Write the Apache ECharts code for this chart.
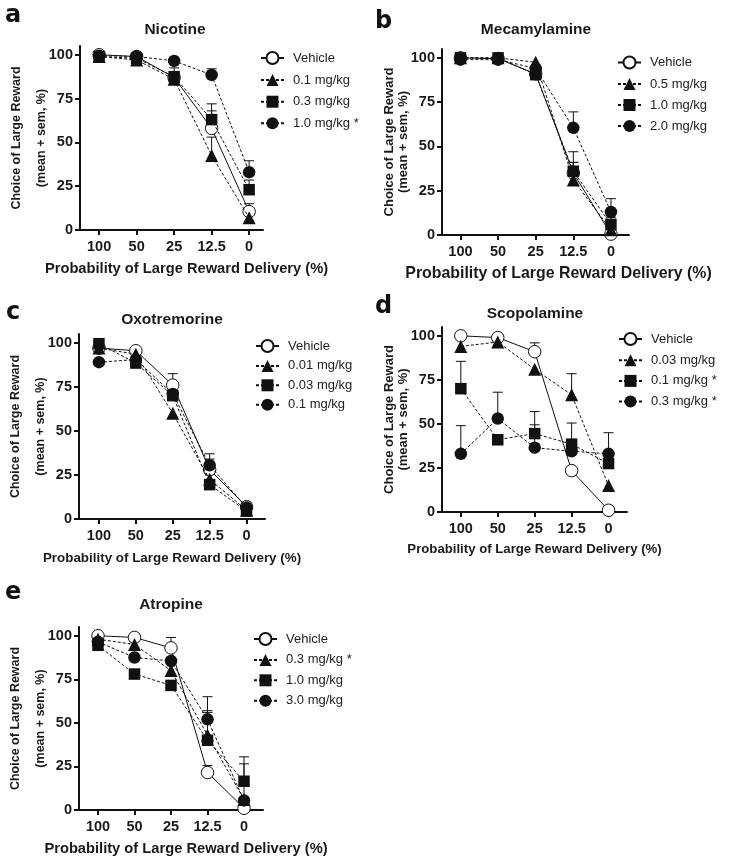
<!DOCTYPE html>
<html>
<head>
<meta charset="utf-8">
<script src="https://cdn.jsdelivr.net/npm/echarts@6/dist/echarts.min.js"></script>
<style>
  html, body { margin: 0; padding: 0; background: #fff; }
  #chart { width: 729px; height: 861px; }
</style>
</head>
<body>
<div id="chart"></div>
<script>
  // x categories (probability of large reward delivery, %)
  const categories = ['100', '50', '25', '12.5', '0'];
  const yTicks = [0, 25, 50, 75, 100];

  // a  Nicotine
  const nicVeh = [100, 99, 87, 58, 10.5],   nicVehErr = [0, 0, 2, 10, 4.5];
  const nic01  = [99, 97, 86, 42.5, 7],     nic01Err  = [0, 0, 0, 10.5, 3];
  const nic03  = [99, 98, 87.5, 63, 23],    nic03Err  = [0, 1, 5, 9, 5.5];
  const nic10  = [99.5, 99, 96.5, 88.5, 33], nic10Err = [0, 0, 0, 3.5, 6.5];

  // b  Mecamylamine
  const mecVeh = [100, 99.5, 91, 35, 0.5],  mecVehErr = [0, 0, 0, 6, 3];
  const mec05  = [100, 100, 97.5, 31, 3],   mec05Err  = [0, 0, 0, 10, 3];
  const mec10  = [100, 100, 90.5, 36, 6],   mec10Err  = [0, 0, 0, 11, 4];
  const mec20  = [99, 99, 94, 60.5, 13],    mec20Err  = [0, 0, 0, 9, 7.5];

  // c  Oxotremorine
  const oxoVeh = [97, 95.5, 76, 28, 7],     oxoVehErr = [0, 0, 6.5, 6, 2];
  const oxo001 = [97, 93.5, 60, 22.5, 5],   oxo001Err = [0, 0, 0, 0, 0];
  const oxo003 = [99.5, 88.5, 70, 19.5, 4.5], oxo003Err = [0, 0, 3, 0, 0];
  const oxo01  = [89, 90.5, 71, 30.5, 6.5], oxo01Err  = [0, 0, 0, 6.5, 3];

  // d  Scopolamine
  const scoVeh = [100, 99, 91, 23.5, 1],    scoVehErr = [0, 0, 5, 0, 0];
  const sco003 = [94, 96.5, 81, 66.5, 15],  sco003Err = [0, 0, 0, 12, 0];
  const sco01  = [70, 41, 44.5, 38.5, 27.5], sco01Err = [15.5, 0, 12.5, 12, 0];
  const sco03  = [33, 53, 36.5, 34.5, 33],  sco03Err  = [16, 15, 13, 5.5, 12];

  // e  Atropine
  const atrVeh = [100, 99, 93, 21.5, 1],    atrVehErr = [0, 0, 6, 4, 0];
  const atr03  = [98, 95, 80, 43, 6],       atr03Err  = [0, 0, 0, 13, 0];
  const atr10  = [94.5, 78, 71.5, 40, 16.5], atr10Err = [0, 0, 0, 17, 14];
  const atr30  = [96.5, 87.5, 85.5, 52, 5.5], atr30Err = [0, 0, 0, 13, 21];

  const font = "'Liberation Sans', Arial, Helvetica, sans-serif";

  const panels = [
    { id: 'a', title: 'Nicotine', grid: [80, 46, 183, 184], xr: [-0.51, 4.37], tx: 175, ty: 22, lx: 260, ly: 51, lgap: 8.6,
      yGap: 25.5, yLH: 25, yFs: 12.5, xFs: 14.7, xGap: 31, xShift: 30, letter: [5, 4],
      lines: [['Vehicle', nicVeh, nicVehErr, 'open'], ['0.1 mg/kg', nic01, nic01Err, 'triangle'],
              ['0.3 mg/kg', nic03, nic03Err, 'rect'], ['1.0 mg/kg *', nic10, nic10Err, 'circle']] },
    { id: 'b', title: 'Mecamylamine', grid: [442, 49, 187, 186], xr: [-0.49, 4.48], tx: 536, ty: 22, lx: 617, ly: 55.5, lgap: 8,
      yGap: 31.5, yLH: 14, yFs: 13, xFs: 15.9, xGap: 31, xShift: 46, letter: [375, 10],
      lines: [['Vehicle', mecVeh, mecVehErr, 'open'], ['0.5 mg/kg', mec05, mec05Err, 'triangle'],
              ['1.0 mg/kg', mec10, mec10Err, 'rect'], ['2.0 mg/kg', mec20, mec20Err, 'circle']] },
    { id: 'c', title: 'Oxotremorine', grid: [79, 334, 186, 185], xr: [-0.54, 4.5], tx: 172, ty: 312, lx: 255, ly: 339, lgap: 6.4,
      yGap: 25.5, yLH: 25, yFs: 12.5, xFs: 13.4, xGap: 33, xShift: 0, letter: [6, 301],
      lines: [['Vehicle', oxoVeh, oxoVehErr, 'open'], ['0.01 mg/kg', oxo001, oxo001Err, 'triangle'],
              ['0.03 mg/kg', oxo003, oxo003Err, 'rect'], ['0.1 mg/kg', oxo01, oxo01Err, 'circle']] },
    { id: 'd', title: 'Scopolamine', grid: [442, 327, 185, 185], xr: [-0.51, 4.5], tx: 535, ty: 306, lx: 618, ly: 332, lgap: 7.7,
      yGap: 31.5, yLH: 14, yFs: 13, xFs: 13.2, xGap: 30.5, xShift: 0, letter: [375, 295],
      lines: [['Vehicle', scoVeh, scoVehErr, 'open'], ['0.03 mg/kg', sco003, sco003Err, 'triangle'],
              ['0.1 mg/kg *', sco01, sco01Err, 'rect'], ['0.3 mg/kg *', sco03, sco03Err, 'circle']] },
    { id: 'e', title: 'Atropine', grid: [79, 627, 184, 183], xr: [-0.52, 4.52], tx: 171, ty: 597, lx: 253, ly: 632, lgap: 7.4,
      yGap: 25.5, yLH: 25, yFs: 12.5, xFs: 14.7, xGap: 31.5, xShift: 30, letter: [5, 581],
      lines: [['Vehicle', atrVeh, atrVehErr, 'open'], ['0.3 mg/kg *', atr03, atr03Err, 'triangle'],
              ['1.0 mg/kg', atr10, atr10Err, 'rect'], ['3.0 mg/kg', atr30, atr30Err, 'circle']] }
  ];

  const grids = [], xAxes = [], yAxes = [], series = [], legends = [], titles = [];

  panels.forEach(function (p, k) {
    grids.push({ left: p.grid[0], top: p.grid[1], width: p.grid[2], height: p.grid[3], containLabel: false });

    xAxes.push({
      gridIndex: k, type: 'value', min: p.xr[0], max: p.xr[1],
      name: 'Probability of Large Reward Delivery (%)', nameLocation: 'middle', nameGap: p.xGap, nameMoveOverlap: false,
      nameTextStyle: { fontFamily: font, fontWeight: 'bold', fontSize: p.xFs, color: '#1a1a1a', padding: [0, 0, 0, p.xShift] },
      axisLine: { onZero: false, lineStyle: { color: '#111', width: 2 } },
      axisTick: { customValues: [0, 1, 2, 3, 4], length: 5, lineStyle: { color: '#111', width: 2 } },
      axisLabel: { customValues: [0, 1, 2, 3, 4], margin: 9, fontFamily: font, fontWeight: 'bold', fontSize: 14.5, color: '#1a1a1a',
        formatter: function (v) { return categories[Math.round(v)]; } },
      splitLine: { show: false }
    });

    yAxes.push({
      gridIndex: k, type: 'value', min: 0, max: 105,
      name: 'Choice of Large Reward\n(mean + sem, %)', nameLocation: 'middle', nameRotate: 90, nameGap: p.yGap,
      nameMoveOverlap: false,
      nameTextStyle: { fontFamily: font, fontWeight: 'bold', fontSize: p.yFs, lineHeight: p.yLH, color: '#1a1a1a' },
      axisLine: { onZero: false, lineStyle: { color: '#111', width: 2 } },
      axisTick: { customValues: yTicks, length: 5, lineStyle: { color: '#111', width: 2 } },
      axisLabel: { customValues: yTicks, margin: 7, fontFamily: font, fontWeight: 'bold', fontSize: 14.5, color: '#1a1a1a' },
      splitLine: { show: false }
    });

    titles.push({ text: p.title, left: p.tx, top: p.ty, textAlign: 'center', padding: 0,
      textStyle: { fontFamily: font, fontWeight: 'bold', fontSize: 15.5, color: '#1a1a1a' } });
    titles.push({ text: p.id, left: p.letter[0], top: p.letter[1], padding: 0,
      textStyle: { fontFamily: "'DejaVu Sans', sans-serif", fontWeight: 'bold', fontSize: 24, color: '#111' } });

    const names = [];
    p.lines.forEach(function (s, j) {
      const open = s[3] === 'open';
      const name = p.id + '|' + s[0];
      names.push(name);
      series.push({
        name: name, type: 'line', xAxisIndex: k, yAxisIndex: k,
        data: s[1].map(function (v, i) { return [i, v]; }),
        symbol: open ? 'circle' : s[3],
        symbolSize: s[3] === 'triangle' ? 13 : (s[3] === 'rect' ? 11.5 : 12.5),
        lineStyle: { color: '#111', width: 1, type: open ? 'solid' : [3, 2] },
        itemStyle: open ? { color: '#fff', borderColor: '#111', borderWidth: 1 } : { color: '#111' },
        z: 3 + j, animation: false
      });
      series.push({
        type: 'custom', xAxisIndex: k, yAxisIndex: k, z: 2, silent: true,
        data: s[1].map(function (v, i) { return [i, v, s[2][i]]; }),
        encode: { x: 0, y: 1 },
        renderItem: function (params, api) {
          const e = api.value(2);
          if (!e) return;
          const a = api.coord([api.value(0), api.value(1)]);
          const b = api.coord([api.value(0), api.value(1) + e]);
          return {
            type: 'group',
            children: [
              { type: 'line', shape: { x1: a[0], y1: a[1], x2: b[0], y2: b[1] }, style: { stroke: '#111', lineWidth: 1 } },
              { type: 'line', shape: { x1: b[0] - 5, y1: b[1], x2: b[0] + 5, y2: b[1] }, style: { stroke: '#111', lineWidth: 1 } }
            ]
          };
        },
        animation: false
      });
    });

    legends.push({
      data: names, orient: 'vertical', left: p.lx, top: p.ly, padding: 0,
      itemWidth: 23, itemHeight: 15, itemGap: p.lgap,
      selectedMode: false,
      formatter: function (n) { return n.split('|')[1]; },
      textStyle: { fontFamily: font, fontSize: 13, color: '#222', padding: [0, 0, 0, 4] }
    });
  });

  const chart = echarts.init(document.getElementById('chart'));
  chart.setOption({
    backgroundColor: '#fff',
    animation: false,
    title: titles,
    grid: grids,
    xAxis: xAxes,
    yAxis: yAxes,
    legend: legends,
    series: series
  });
</script>
</body>
</html>
